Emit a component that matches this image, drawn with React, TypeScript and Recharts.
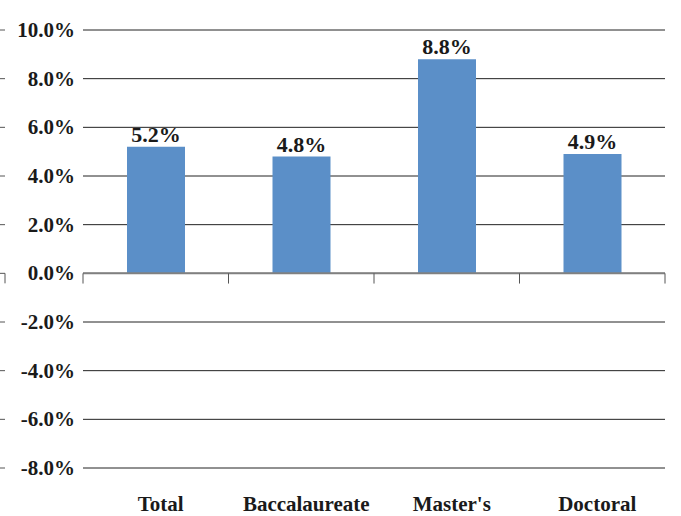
import { BarChart, Bar, XAxis, YAxis, CartesianGrid, ReferenceLine, LabelList } from 'recharts'

const categories = ['Total', 'Baccalaureate', "Master's", 'Doctoral']
const growth = [5.2, 4.8, 8.8, 4.9]
const yTicks = [-8, -6, -4, -2, 0, 2, 4, 6, 8, 10]
const boundaries = [0, 1, 2, 3, 4]

const FONT = "'Liberation Serif', 'DejaVu Serif', serif"
const textStyle = { fontFamily: FONT, fontWeight: 700, fontSize: 21, fill: '#1a1a1a' }

const data = categories.map((name, i) => ({ name, value: growth[i], pos: i + 0.5 }))

function pct(v: number) {
  return `${v.toFixed(1)}%`
}

function YTick({ y, payload }: any) {
  return (
    <g>
      <line x1={0} x2={5} y1={y} y2={y} stroke="#555" />
      {payload.value === 0 && <line x1={5} x2={5} y1={y} y2={y + 10} stroke="#555" />}
      <text x={75} y={y} dy="0.34em" textAnchor="end" style={textStyle}>
        {pct(payload.value)}
      </text>
    </g>
  )
}

function XTick({ x, payload }: any) {
  return (
    <text x={x + 5} y={511} textAnchor="middle" style={textStyle}>
      {payload.value}
    </text>
  )
}

export default function App() {
  return (
    <div style={{ position: 'absolute', left: 0, top: 0, background: '#fff' }}>
      <BarChart width={681} height={516} data={data} margin={{ top: 30, right: 16, bottom: 0, left: 0 }}>
        <CartesianGrid vertical={false} stroke="#222" />
        <XAxis dataKey="name" height={48} axisLine={false} tickLine={false} tick={<XTick />} interval={0} />
        <XAxis xAxisId="b" dataKey="pos" type="number" domain={[0, 4]} allowDataOverflow hide />
        <YAxis
          width={83}
          domain={[-8, 10]}
          ticks={yTicks}
          interval={0}
          axisLine={false}
          tickLine={false}
          tick={<YTick />}
        />
        <Bar dataKey="value" fill="#5b8fc8" barSize={58} isAnimationActive={false}>
          <LabelList
            dataKey="value"
            position="top"
            offset={5}
            formatter={(v: any) => pct(Number(v))}
            style={{ ...textStyle, fontSize: 22 }}
          />
        </Bar>
        <ReferenceLine y={0} stroke="#808080" strokeWidth={2} />
        {boundaries.map((b) => (
          <ReferenceLine
            key={b}
            xAxisId="b"
            segment={[{ x: b, y: 0 }, { x: b, y: -0.42 }]}
            stroke="#555"
            ifOverflow="visible"
          />
        ))}
      </BarChart>
    </div>
  )
}
